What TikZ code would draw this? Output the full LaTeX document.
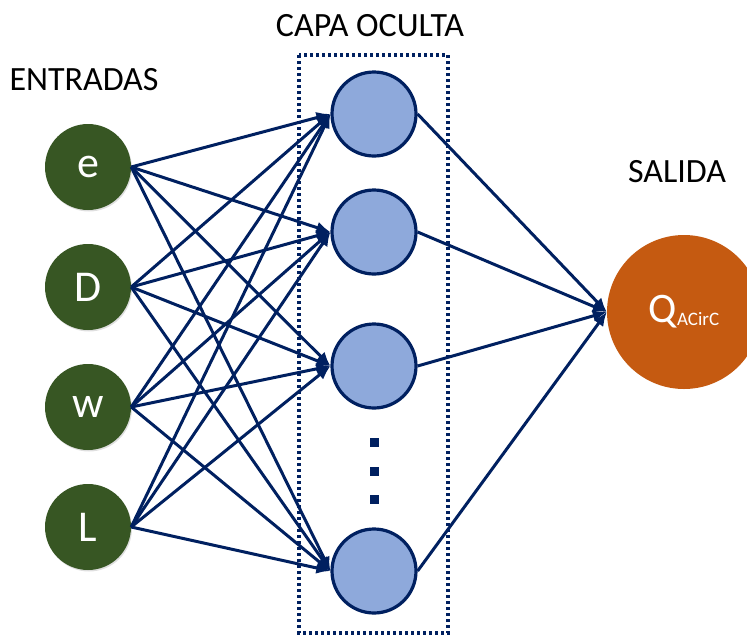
\documentclass[tikz,border=0pt]{standalone}
\usepackage{fontspec}
\setmainfont{Carlito}
\usetikzlibrary{arrows.meta,shadows}

\definecolor{navy}{HTML}{002060}
\definecolor{ingreen}{HTML}{375623}
\definecolor{hidblue}{HTML}{8EA9DB}
\definecolor{outorange}{HTML}{C55A11}

\tikzset{
  inputnode/.style={circle, fill=ingreen, minimum size=86pt, inner sep=0pt,
    text=white, font=\fontsize{44}{44}\selectfont,
    drop shadow={opacity=0.25, shadow xshift=1pt, shadow yshift=-1.5pt}},
  hiddennode/.style={circle, fill=hidblue, draw=navy, line width=3.2pt,
    minimum size=84pt, inner sep=0pt,
    drop shadow={opacity=0.25, shadow xshift=1pt, shadow yshift=-1.5pt}},
  outputnode/.style={circle, fill=outorange, minimum size=154pt, inner sep=0pt,
    text=white},
  header/.style={font=\fontsize{34}{34}\selectfont, text=black},
  link/.style={draw=navy, line width=3pt, -{Latex[length=14pt,width=12pt]}},
  layerbox/.style={draw=navy, line width=3.2pt, dash pattern=on 3pt off 3pt},
  ellipsisdot/.style={fill=navy, minimum size=9pt, inner sep=0pt, rectangle}
}

\begin{document}
\begin{tikzpicture}[x=1pt, y=-1pt]
  \useasboundingbox (0,0) rectangle (747,635);
  \clip (0,0) rectangle (747,635);

  % layer titles
  \node[header] (tin)  at (84,80)   {ENTRADAS};
  \node[header] (thid) at (370,26)  {CAPA OCULTA};
  \node[header] (tout) at (677,172) {SALIDA};

  % frame around the hidden layer
  \draw[layerbox] (299,55) rectangle (448,633);

  % input layer
  \node[inputnode] (i1) at (88,167) {e};
  \node[inputnode] (i2) at (88,287) {D};
  \node[inputnode] (i3) at (88,407) {w};
  \node[inputnode] (i4) at (88,527) {L};

  % hidden layer
  \node[hiddennode] (h1) at (374,114) {};
  \node[hiddennode] (h2) at (374,232) {};
  \node[hiddennode] (h3) at (374,366) {};
  \node[hiddennode] (h4) at (374,571) {};

  % vertical ellipsis between hidden neurons
  \node[ellipsisdot] (d1) at (374,442) {};
  \node[ellipsisdot] (d2) at (374,471) {};
  \node[ellipsisdot] (d3) at (374,499) {};

  % output layer
  \node[outputnode] (o) at (684,312)
    {{\fontsize{42}{42}\selectfont Q}\raisebox{-0.5ex}{\fontsize{19}{19}\selectfont ACirC}};

  % fully connected input -> hidden
  \foreach \i in {1,...,4}
    \foreach \h in {1,...,4}
      \draw[link] (i\i.east) -- (h\h.west);

  % hidden -> output
  \foreach \h in {1,...,4}
    \draw[link] (h\h.east) -- (o.west);
\end{tikzpicture}
\end{document}
